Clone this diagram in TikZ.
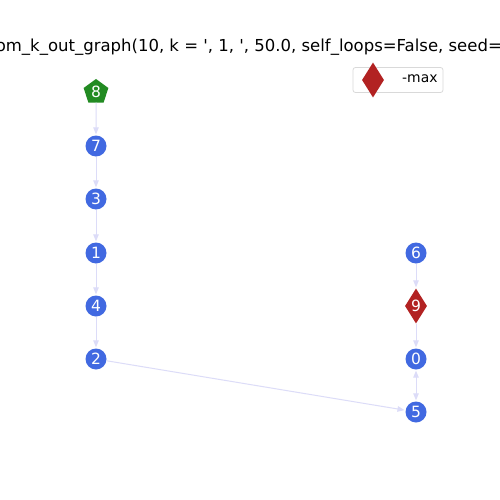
\documentclass[tikz,border=0pt]{standalone}
\usepackage{fontspec}
\setmainfont{DejaVu Sans}
\usetikzlibrary{shapes.geometric,arrows.meta}
\definecolor{nblue}{HTML}{4169E1}
\definecolor{ngreen}{HTML}{228B22}
\definecolor{nred}{HTML}{B22222}
\definecolor{edgec}{HTML}{DCDCF8}
\newcommand{\sq}{\textquotesingle}
\tikzset{
  vnode/.style={circle,fill=nblue,text=white,inner sep=0pt,minimum size=21pt,font=\fontsize{15.5}{16}\selectfont},
  pnode/.style={regular polygon,regular polygon sides=5,fill=ngreen,text=white,inner sep=0pt,minimum size=26pt,font=\fontsize{15.5}{16}\selectfont},
  dnode/.style={diamond,fill=nred,text=white,inner sep=0pt,minimum width=22pt,minimum height=35pt,font=\fontsize{15.5}{16}\selectfont},
  edge/.style={draw=edgec,line width=1pt,-{Triangle[length=7pt,width=5.5pt]},shorten >=1pt},
  bedge/.style={draw=edgec,line width=1pt,{Triangle[length=7pt,width=5.5pt]}-{Triangle[length=7pt,width=5.5pt]},shorten >=1pt,shorten <=1pt}
}
\begin{document}
\begin{tikzpicture}[x=1pt,y=-1pt]
\useasboundingbox (0,0) rectangle (500,500);
\clip (0,0) rectangle (500,500);
\fill[white] (0,0) rectangle (500,500);
\node[anchor=east,font=\fontsize{16.5}{18}\selectfont,inner sep=0pt] (title) at (502,47) {random\_k\_out\_graph(10, k = \sq, 1, \sq, 50.0, self\_loops=False, seed=};
% nodes
\node[pnode] (n8) at (96,92) {8};
\node[vnode] (n7) at (96,146) {7};
\node[vnode] (n3) at (96,199) {3};
\node[vnode] (n1) at (96,253) {1};
\node[vnode] (n4) at (96,306) {4};
\node[vnode] (n2) at (96,359) {2};
\node[vnode] (n6) at (416,253) {6};
\node[dnode] (n9) at (416,306) {9};
\node[vnode] (n0) at (416,359) {0};
\node[vnode] (n5) at (416,412) {5};
% edges
\draw[edge] (n8) -- (n7);
\draw[edge] (n7) -- (n3);
\draw[edge] (n3) -- (n1);
\draw[edge] (n1) -- (n4);
\draw[edge] (n4) -- (n2);
\draw[edge] (n2) -- (n5);
\draw[edge] (n6) -- (n9);
\draw[edge] (n9) -- (n0);
\draw[bedge] (n0) -- (n5);
% legend
\node[draw=black!15,fill=white,rounded corners=2.5pt,line width=0.8pt,minimum width=90pt,minimum height=25pt,inner sep=0pt] (leg) at (398,80) {};
\node[diamond,fill=nred,inner sep=0pt,minimum width=22pt,minimum height=35pt] (legm) at (373,80) {};
\node[anchor=west,font=\fontsize{13.9}{15}\selectfont,inner sep=0pt] (legt) at (402,79) {-max};
\end{tikzpicture}
\end{document}
